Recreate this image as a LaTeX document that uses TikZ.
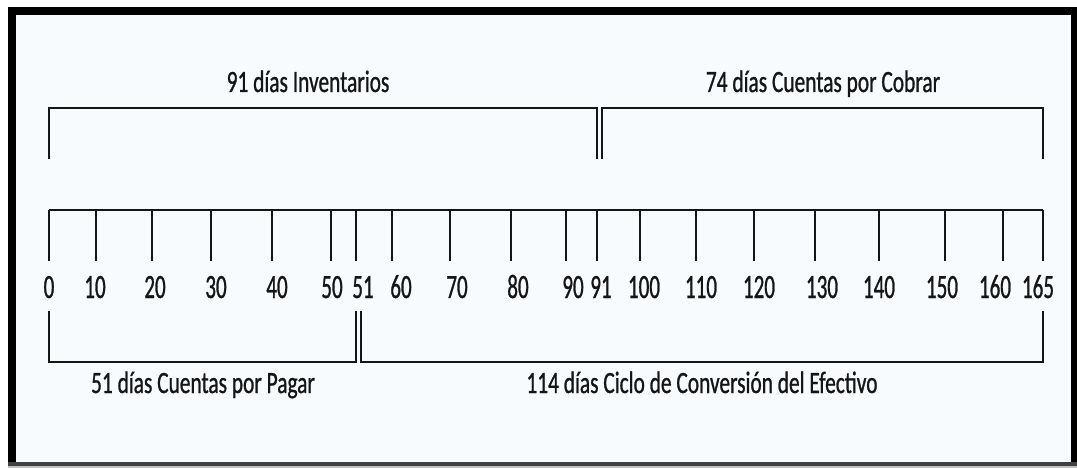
\documentclass[tikz,border=0pt]{standalone}
\usepackage{fontspec}
\newfontfamily\lblfont[FakeStretch=0.69,FakeBold=0.8]{Carlito}
\newfontfamily\numfont[FakeStretch=0.62,FakeBold=0.8]{Carlito}
\definecolor{bgfill}{HTML}{F7FBFE}
\definecolor{inkc}{HTML}{151515}
\begin{document}
\begin{tikzpicture}[x=1pt,y=-1pt,
  bline/.style={line width=2.6pt, draw=inkc, line join=miter},
  tickln/.style={line width=2.2pt, draw=inkc},
  lbl/.style={anchor=base, inner sep=0pt, text=inkc, font=\lblfont\fontsize{31}{31}\selectfont},
  num/.style={anchor=base, inner sep=0pt, text=inkc, font=\numfont\fontsize{34}{34}\selectfont}]
\useasboundingbox (0,0) rectangle (1077,468);
\fill[white] (0,0) rectangle (1077,468);
\fill[bgfill] (12,11) rectangle (1074,464);
% frame
\fill[black] (8,7) rectangle (16,468);
\fill[black] (8,7) rectangle (1077,15);
\fill[black] (1071,7) rectangle (1077,464);
\fill[black!75] (8,462) rectangle (1077,465.5);
\fill[black!25] (8,465.5) rectangle (1077,468);

% top brackets
\coordinate (iA) at (49,159);
\coordinate (iT) at (300,108);
\coordinate (iB) at (597,159);
\coordinate (cA) at (602,159);
\coordinate (cT) at (800,108);
\coordinate (cB) at (1043,159);
\draw[bline] (iA) |- (iT) -| (iB);
\draw[bline] (cA) |- (cT) -| (cB);
\node[lbl] (inv) at (308,92) {91 días Inventarios};
\node[lbl] (cxc) at (823,92) {74 días Cuentas por Cobrar};

% timeline axis
\coordinate (axL) at (49,210);
\coordinate (axR) at (1043,210);
\draw[bline] (axL) -- (axR);
\foreach \v/\tx/\lx in {0/49/49, 10/96/95, 20/152/155, 30/211/216, 40/272/277,
    50/331/332, 51/356/363, 60/392/401, 70/450/457, 80/511/518, 90/566/573,
    91/597/601, 100/640/644, 110/696/701, 120/754/759, 130/815/822,
    140/879/879, 150/945/942, 160/1003/995, 165/1043/1038} {
  \coordinate (t\v) at (\tx,210);
  \coordinate (e\v) at (\tx,261);
  \draw[tickln] (t\v) -- (e\v);
  \node[num] (n\v) at (\lx,298) {\v};
}

% bottom brackets
\coordinate (pA) at (49,311);
\coordinate (pT) at (200,362);
\coordinate (pB) at (356,311);
\coordinate (fA) at (361,311);
\coordinate (fT) at (700,362);
\coordinate (fB) at (1043,311);
\draw[bline] (pA) |- (pT) -| (pB);
\draw[bline] (fA) |- (fT) -| (fB);
\node[lbl] (cxp) at (203,393) {51 días Cuentas por Pagar};
\node[lbl] (cce) at (702,393) {114 días Ciclo de Conversión del Efectivo};
\end{tikzpicture}
\end{document}
